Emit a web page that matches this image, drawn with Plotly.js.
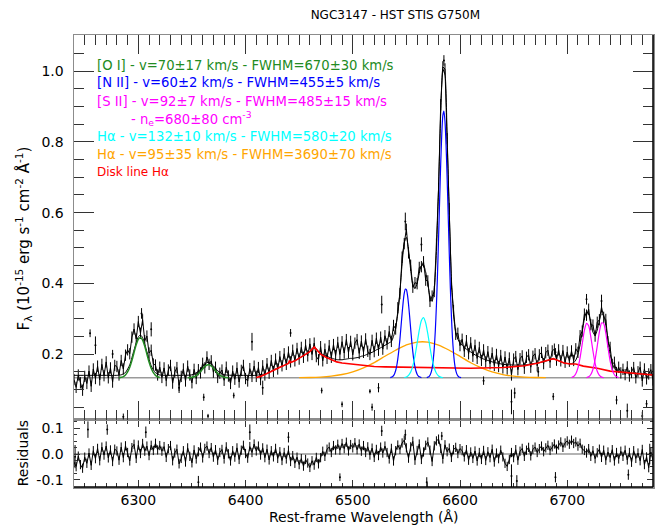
<!DOCTYPE html>
<html>
<head>
<meta charset="utf-8">
<script src="https://cdn.plot.ly/plotly-3.0.1.min.js"></script>
<style>html,body{margin:0;padding:0;background:#fff;}#chart{width:663px;height:526px;}</style>
</head>
<body>
<div id="chart"></div>
<script>
// ---- Spectrum sampling (regular grid: start + step, like a FITS WCS) ----
const waveStart = 6240;
const waveStep = 2;

const flux = [
 0.128,0.106,0.141,0.119,0.098,0.137,0.117,0.152,0.109,0.158,0.131,0.166,0.127,0.171,0.139,0.178,0.133,0.161,0.121,0.168,
 0.165,0.141,0.182,0.158,0.197,0.212,0.201,0.248,0.271,0.243,0.292,0.259,0.297,0.238,0.251,0.203,0.211,0.172,0.169,0.141,0.163,
 0.134,0.161,0.125,0.155,0.168,0.118,0.149,0.162,0.112,0.137,0.158,0.124,0.166,0.141,0.119,0.157,0.131,
 0.156,0.147,0.174,0.161,0.192,0.171,0.181,0.149,0.163,0.134,0.146,
 0.155,0.126,0.163,0.138,0.117,0.152,0.129,0.161,0.121,0.154,0.168,0.131,0.124,0.159,0.137,0.166,
 0.137,0.162,0.128,0.167,0.141,0.173,0.146,0.182,0.151,0.186,
 0.158,0.193,0.167,0.201,0.171,0.206,0.178,0.211,0.181,0.216,
 0.186,0.219,0.191,0.226,0.195,0.229,0.199,0.231,0.193,0.184,
 0.221,0.181,0.214,0.188,0.224,0.191,0.227,0.196,0.233,0.199,
 0.235,0.203,0.241,0.204,0.236,0.198,0.231,0.241,0.202,0.237,
 0.205,0.243,0.208,0.199,0.239,0.207,0.245,0.211,0.248,0.214,
 0.252,
 0.229,0.264,0.236,0.281,0.271,0.331,0.371,0.474,0.512,0.553,
 0.486,0.451,0.389,0.402,0.399,0.445,0.447,0.461,0.409,0.407,
 0.349,0.364,0.377,0.511,0.668,0.905,1.012,1.006,0.809,0.611,
 0.399,0.323,0.256,0.259,0.224,
 0.242,0.208,0.238,0.201,0.232,0.194,0.225,0.188,0.219,0.182,
 0.212,0.178,0.207,0.173,0.203,0.168,0.199,0.165,0.196,0.161,
 0.192,0.158,0.189,0.141,0.186,0.193,0.156,0.187,0.195,0.160,
 0.191,0.198,0.163,0.194,0.201,0.167,0.198,0.205,0.173,0.204,
 0.211,0.177,0.209,0.214,0.183,0.212,0.181,0.210,0.177,0.206,
 0.180,0.209,0.182,0.215,0.205,0.252,0.265,0.313,0.310,0.327,
 0.283,0.282,0.251,0.290,0.297,0.333,0.304,0.298,0.235,0.219,
 0.171,0.177,0.148,0.163,0.147,
 0.157,0.142,0.164,0.138,0.148,0.162,0.133,0.150,0.163,0.124,0.158,0.130,0.144,0.156,0.127
];
const fluxErr = 0.016;

// Residuals on the same grid
const resid = [
 -0.031,-0.049,-0.008,-0.041,-0.055,-0.012,-0.036,0.004,-0.044,0.013,-0.018,0.022,-0.026,0.027,-0.004,0.031,-0.015,0.016,-0.029,0.019,
 0.012,-0.024,0.027,-0.014,0.032,0.006,-0.027,0.025,0.038,-0.017,0.035,0.002,0.041,0.011,0.031,-0.006,0.034,0.014,0.042,0.016,0.033,
 0.011,0.029,-0.013,0.021,0.033,-0.026,0.004,0.019,-0.038,-0.017,0.013,-0.031,0.024,-0.009,-0.034,0.016,-0.019,
 0.009,0.027,-0.015,0.022,0.031,0.002,0.025,-0.012,0.017,-0.024,0.006,
 0.018,-0.019,0.028,0.001,-0.027,0.013,-0.012,0.024,-0.021,0.015,0.034,0.002,-0.016,0.029,0.006,0.039,
 0.012,0.031,-0.004,0.024,-0.014,0.019,-0.023,0.013,-0.011,0.022,
 -0.017,0.009,-0.025,0.006,-0.019,0.015,-0.029,-0.006,-0.036,-0.012,
 -0.041,-0.018,-0.047,-0.021,-0.035,-0.052,-0.026,-0.043,-0.013,-0.038,
 -0.014,0.011,-0.009,0.019,0.027,0.006,0.033,0.016,0.038,0.015,
 0.041,0.021,0.046,0.012,0.037,0.024,0.044,0.017,0.039,0.011,
 0.033,0.006,0.028,-0.004,0.023,-0.013,0.018,-0.006,0.027,0.004,
 0.031,
 0.006,-0.019,0.022,-0.027,0.013,0.035,0.018,0.043,0.054,0.024,
 -0.016,0.028,0.049,-0.024,0.014,0.039,-0.021,0.008,0.034,0.047,
 0.015,-0.029,0.032,0.051,0.058,0.022,-0.019,0.036,0.009,0.023,
 -0.013,0.017,0.026,0.002,0.021,
 0.013,-0.011,0.017,-0.024,0.008,-0.017,0.012,-0.027,0.006,-0.021,
 0.014,-0.025,0.009,-0.014,0.019,-0.031,0.004,-0.018,0.015,-0.011,
 -0.036,-0.048,-0.021,0.006,-0.014,0.017,-0.024,0.011,0.022,-0.009,
 0.015,0.026,-0.007,0.018,0.027,0.006,0.021,0.031,0.009,0.024,
 0.034,0.014,0.028,0.039,0.019,0.035,0.047,0.026,0.043,0.051,
 0.038,0.054,0.041,0.047,0.031,0.042,0.019,0.014,0.004,0.021,
 -0.009,0.013,-0.018,0.005,0.019,-0.013,0.015,-0.024,0.008,-0.014,
 0.017,-0.027,0.006,-0.019,0.011,
 -0.009,0.015,-0.023,0.006,-0.032,0.013,-0.017,0.004,-0.026,0.018,-0.041,-0.011,-0.053,0.008,-0.024
];
const residErr = 0.018;

// Outlying pixels with large error bars (flux panel)
const spikeWave = [6255,6260,6276,6286,6303,6312,6338,6361,6365,6389,6406,6416,6442,6471,6490,6516,6518,6524,6527,6549,6564,6585,6622,6648,6651,6673,6687,6689,6718,6732,6746,6756,6770,6774];
const spikeFlux = [0.259,0.225,0.200,0.023,0.315,0.270,0.105,0.078,0.025,0.083,0.235,0.105,0.260,0.097,0.058,0.095,0.050,0.105,0.340,0.575,0.510,1.030,0.125,0.065,0.090,0.150,0.080,0.205,0.355,0.350,0.070,0.040,0.025,0.060];
const spikeErr  = [0.011,0.025,0.012,0.009,0.015,0.020,0.015,0.010,0.006,0.008,0.025,0.020,0.011,0.008,0.008,0.006,0.010,0.013,0.025,0.025,0.020,0.015,0.012,0.035,0.015,0.014,0.010,0.012,0.015,0.018,0.012,0.020,0.012,0.010];

// Outlying pixels (residual panel)
const rSpikeWave = [6241,6253,6271,6307,6356,6404,6440,6488,6527,6549,6569,6583,6648,6653,6689,6757,6777];
const rSpikeVal  = [-0.010,0.095,0.095,0.085,-0.110,0.085,0.065,-0.090,0.090,0.075,-0.110,0.070,-0.085,-0.105,-0.090,-0.080,0.000];
const rSpikeErr  = [0.045,0.032,0.020,0.022,0.025,0.030,0.020,0.015,0.020,0.020,0.020,0.016,0.045,0.023,0.020,0.020,0.040];

// Total fit model
const modelWaveLeft = [6240,6250,6260,6270,6280,6284,6288,6292,6296,6300,6302,6304,6308,6312,6316,6320,6330,6340,6350,6356,6360,6364,6366,6370,6374,6380,6390,6400,6410,6414,6418];
const modelFluxLeft = [0.140,0.140,0.140,0.140,0.140,0.1414,0.148,0.170,0.2115,0.249,0.254,0.2466,0.2068,0.167,0.147,0.141,0.140,0.140,0.1414,0.151,0.165,0.176,0.1767,0.167,0.1529,0.1418,0.140,0.140,0.140,0.142,0.144];
const modelStart = 6422;
const modelFluxRight = [
 0.148,0.152,0.155,0.158,0.160,0.163,0.166,0.168,0.171,0.174,
 0.176,0.179,0.181,0.185,0.188,0.192,0.195,0.199,0.203,0.208,
 0.214,0.221,0.215,0.207,0.202,0.199,0.196,0.194,0.191,0.189,
 0.187,0.185,0.184,0.184,0.184,0.185,0.186,0.187,0.188,0.188,
 0.189,0.190,0.191,0.194,0.195,0.1975,0.200,0.203,0.205,0.208,
 0.212,0.214,0.218,0.221,0.225,0.228,0.232,0.2355,0.250,0.275,
 0.315,0.378,0.455,0.515,0.530,0.495,0.438,0.395,0.385,0.400,
 0.428,0.450,0.452,0.432,0.398,0.362,0.350,0.382,0.490,0.670,
 0.880,1.005,0.990,0.815,0.600,0.412,0.310,0.262,0.242,0.232,
 0.225,0.219,0.214,0.210,0.206,0.202,0.198,0.195,0.192,0.189,
 0.186,0.184,0.182,0.180,0.178,0.1765,0.175,0.174,0.1725,0.171,
 0.1705,0.170,0.170,0.1695,0.169,0.169,0.169,0.169,0.169,0.169,
 0.170,0.171,0.172,0.173,0.174,0.174,0.1755,0.177,0.1785,0.180,
 0.182,0.184,0.186,0.186,0.1835,0.181,0.1785,0.176,0.1745,0.1735,
 0.1725,0.173,0.176,0.183,0.199,0.226,0.263,0.299,0.319,0.3136,
 0.288,0.262,0.253,0.268,0.295,0.314,0.3095,0.281,0.239,0.200,
 0.174,0.159,0.153,0.1495,0.149,0.148,0.1475,0.147,0.1465,0.146,
 0.1455,0.145,0.1445,0.144,0.1435,0.143,0.1425,0.142,0.1415,0.141
];

// Continuum level (grey line)
const contWave = [6240,6780];
const contFlux = [0.133,0.133];

// Component curves
const oi1Wave = [6282,6284,6286,6288,6290,6292,6294,6296,6298,6300,6302,6304,6306,6308,6310,6312,6314,6316,6318,6320];
const oi1Flux = [0.1335,0.1344,0.1366,0.1411,0.1495,0.163,0.182,0.2045,0.2263,0.242,0.247,0.2396,0.2223,0.1998,0.1778,0.1599,0.1474,0.1399,0.136,0.1341];
const oi2Wave = [6346,6348,6350,6352,6354,6356,6358,6360,6362,6364,6366,6368,6370,6372,6374,6376,6378,6380,6382,6384];
const oi2Flux = [0.1332,0.1336,0.1344,0.1362,0.1393,0.1441,0.1506,0.158,0.1648,0.1691,0.1697,0.1664,0.1602,0.1528,0.1459,0.1405,0.1369,0.1348,0.1338,0.1333];
const nii1Wave = [6535,6537,6538,6539,6540,6541,6542,6543,6544,6545,6546,6547,6548,6549,6550,6551,6552,6553,6554,6555,6556,6557,6558,6559,6560,6561,6562,6564];
const nii1Flux = [0.1337,0.1362,0.1393,0.1447,0.1536,0.1671,0.1864,0.2119,0.2432,0.2786,0.3145,0.347,0.3714,0.3839,0.3824,0.3674,0.3411,0.3075,0.2714,0.2366,0.2063,0.182,0.1639,0.1515,0.1434,0.1386,0.1358,0.1336];
const nii2Wave = [6569,6571,6572,6573,6574,6575,6576,6577,6578,6579,6580,6581,6582,6583,6584,6585,6586,6587,6588,6589,6590,6591,6592,6593,6594,6595,6596,6597,6598,6599,6601];
const nii2Flux = [0.1336,0.1364,0.1402,0.1476,0.1607,0.1826,0.217,0.2675,0.3366,0.4239,0.5262,0.6341,0.7375,0.8217,0.8745,0.8871,0.8578,0.7911,0.6977,0.5909,0.4838,0.3869,0.3067,0.2453,0.2016,0.1726,0.1545,0.1441,0.1384,0.1355,0.1334];
const haNWave = [6548,6550,6552,6554,6556,6558,6560,6562,6564,6566,6568,6570,6572,6574,6576,6578,6580,6582,6584];
const haNFlux = [0.1338,0.1355,0.1398,0.1492,0.1669,0.1945,0.2304,0.2675,0.295,0.303,0.288,0.257,0.219,0.185,0.1606,0.1457,0.1381,0.1348,0.1335];
const haBWave = [6450,6460,6470,6480,6490,6500,6510,6520,6530,6540,6550,6560,6565,6570,6580,6590,6600,6610,6620,6630,6640,6650,6660,6670,6680];
const haBFlux = [0.1334,0.1339,0.1352,0.1378,0.1424,0.150,0.1613,0.176,0.194,0.211,0.226,0.234,0.235,0.234,0.2256,0.211,0.1935,0.1755,0.161,0.1496,0.1423,0.1375,0.1352,0.1339,0.1334];
const sii1Wave = [6704,6706,6708,6710,6712,6714,6716,6718,6720,6722,6724,6726,6728,6730,6732,6734];
const sii1Flux = [0.134,0.1369,0.1444,0.161,0.19,0.229,0.267,0.287,0.28,0.249,0.2088,0.174,0.1513,0.1398,0.135,0.1334];
const sii2Wave = [6718,6720,6722,6724,6726,6728,6730,6732,6734,6736,6738,6740,6742,6744,6746,6748];
const sii2Flux = [0.1334,0.136,0.1425,0.1573,0.1843,0.2226,0.2626,0.288,0.2865,0.259,0.2185,0.181,0.1553,0.1416,0.1357,0.1336];
const diskWave = [6410,6414,6420,6426,6432,6438,6440,6441,6442,6446,6450,6455,6460,6464,6467,6470,6475,6480,6485,6490,6495,6500,6510,6520,6530,6550,6580,6610,6640,6660,6672,6680,6687,6692,6697,6703,6708,6715,6728,6740,6759,6780];
const diskFlux = [0.134,0.137,0.145,0.155,0.163,0.171,0.174,0.182,0.176,0.181,0.188,0.197,0.207,0.220,0.210,0.200,0.191,0.184,0.178,0.175,0.173,0.171,0.167,0.165,0.164,0.163,0.161,0.160,0.162,0.167,0.174,0.180,0.187,0.181,0.175,0.172,0.172,0.166,0.160,0.152,0.146,0.141];

// Axis ticks
const xTickVals = [6300,6400,6500,6600,6700];
const xTickText = ['6300','6400','6500','6600','6700'];
const yTickVals = [0.2,0.4,0.6,0.8,1.0];
const yTickText = ['0.2','0.4','0.6','0.8','1.0'];
const rTickVals = [-0.1,0.0,0.1];
const rTickText = ['-0.1','0.0','0.1'];

// Legend text lines
const legendLines = [
  {text:'[O I] - v=70±17 km/s - FWHM=670±30 km/s', color:'#228b22'},
  {text:'[N II] - v=60±2 km/s - FWHM=455±5 km/s', color:'#0000ff'},
  {text:'[S II] - v=92±7 km/s - FWHM=485±15 km/s', color:'#ff00ff'},
  {text:'- n<sub>e</sub>=680±80 cm<sup>-3</sup>', color:'#ff00ff', indent:true},
  {text:'Hα - v=132±10 km/s - FWHM=580±20 km/s', color:'#00ffff'},
  {text:'Hα - v=95±35 km/s - FWHM=3690±70 km/s', color:'#ffa500'},
  {text:'Disk line Hα', color:'#ff0000', small:true}
];

// ---- build ----
const wave = [];
for (let i = 0; i < flux.length; i++) wave.push(waveStart + i * waveStep);
const modelWave = modelWaveLeft.slice();
const modelFlux = modelFluxLeft.slice();
for (let i = 0; i < modelFluxRight.length; i++) { modelWave.push(modelStart + i * waveStep); modelFlux.push(modelFluxRight[i]); }

const topAx = {xaxis:'x2', yaxis:'y'};
const botAx = {xaxis:'x', yaxis:'y2'};
function curve(x, y, color, w, shape) {
  return Object.assign({type:'scatter', mode:'lines', x:x, y:y, line:{color:color, width:w, shape:shape||'spline', smoothing:0.6}}, topAx);
}

const traces = [
  Object.assign({type:'scatter', mode:'lines', x:contWave, y:contFlux, line:{color:'#9a9a9a', width:1.5}}, topAx),
  Object.assign({type:'scatter', mode:'lines', x:wave, y:flux, line:{color:'#000', width:1},
     error_y:{type:'constant', value:fluxErr, thickness:1, width:0, color:'#000'}}, topAx),
  Object.assign({type:'scatter', mode:'markers', x:spikeWave, y:spikeFlux, marker:{color:'#000', size:2},
     error_y:{type:'data', array:spikeErr, thickness:1, width:0, color:'#000'}}, topAx),
  curve(modelWave, modelFlux, '#000', 1.0),
  curve(haBWave, haBFlux, '#ffa500', 1.3),
  curve(diskWave, diskFlux, '#ff0000', 1.6, 'linear'),
  curve(oi1Wave, oi1Flux, '#228b22', 1.5),
  curve(oi2Wave, oi2Flux, '#228b22', 1.5),
  curve(nii1Wave, nii1Flux, '#0000ff', 1.2),
  curve(nii2Wave, nii2Flux, '#0000ff', 1.2),
  curve(haNWave, haNFlux, '#00ffff', 1.2),
  curve(sii1Wave, sii1Flux, '#ff00ff', 1.2),
  curve(sii2Wave, sii2Flux, '#ff00ff', 1.2),
  Object.assign({type:'scatter', mode:'lines', x:contWave, y:[0,0], line:{color:'#9a9a9a', width:1.5}}, botAx),
  Object.assign({type:'scatter', mode:'lines', x:wave, y:resid, line:{color:'#000', width:1},
     error_y:{type:'constant', value:residErr, thickness:1, width:0, color:'#000'}}, botAx),
  Object.assign({type:'scatter', mode:'markers', x:rSpikeWave, y:rSpikeVal, marker:{color:'#000', size:2},
     error_y:{type:'data', array:rSpikeErr, thickness:1, width:0, color:'#000'}}, botAx)
];

const FONT = 'DejaVu Sans, Arial, sans-serif';
const splitY = 0.1492;
const annotations = [];
const legendY = [0.933, 0.894, 0.853, 0.816, 0.7745, 0.736, 0.697];
legendLines.forEach((l, i) => {
  annotations.push({xref:'paper', yref:'paper', x: l.indent ? 0.095 : 0.0368, y: legendY[i], xanchor:'left', yanchor:'middle',
    text:l.text, showarrow:false, font:{family:FONT, size: l.small ? 12 : 13.2, color:l.color}});
});
annotations.push({xref:'paper', yref:'paper', x:-0.088, y:0.55, xanchor:'center', yanchor:'middle', textangle:-90, showarrow:false,
  text:'F<sub>λ</sub> (10<sup>-15</sup> erg s<sup>-1</sup> cm<sup>-2</sup> Å<sup>-1</sup>)', font:{family:FONT, size:15, color:'#000'}});
annotations.push({xref:'paper', yref:'paper', x:-0.088, y:splitY/2, xanchor:'center', yanchor:'middle', textangle:-90, showarrow:false,
  text:'Residuals', font:{family:FONT, size:14, color:'#000'}});
annotations.push({xref:'paper', yref:'paper', x:0.5, y:-0.066, xanchor:'center', yanchor:'middle', showarrow:false,
  text:'Rest-frame Wavelength (Å)', font:{family:FONT, size:14, color:'#000'}});

const axisLine = {showline:true, linecolor:'#8c8c8c', linewidth:1.5, mirror:'allticks', showgrid:false, zeroline:false, tickcolor:'#333', tickwidth:1};
const layout = {
  width:663, height:526,
  margin:{l:74, r:10, t:35, b:39, pad:0},
  paper_bgcolor:'#fff', plot_bgcolor:'#fff',
  font:{family:FONT, size:14, color:'#000'},
  showlegend:false, hovermode:false,
  title:{text:'NGC3147 - HST STIS G750M', font:{family:FONT, size:12, color:'#000'}, xref:'paper', x:0.555, xanchor:'center', yref:'container', y:0.9715, yanchor:'middle'},
  xaxis: Object.assign({anchor:'y2', domain:[0,1], range:[6240,6780], tickmode:'array', tickvals:xTickVals, ticktext:xTickText,
    ticks:'inside', ticklen:7, ticklabelstandoff:0, tickfont:{size:14},
    minor:{ticks:'inside', dtick:10, tick0:6240, ticklen:4, tickcolor:'#333', showgrid:false}}, axisLine),
  xaxis2: Object.assign({anchor:'y', domain:[0,1], range:[6240,6780], matches:'x', tickmode:'array', tickvals:xTickVals, ticktext:xTickText,
    showticklabels:false, ticks:'inside', ticklen:19,
    minor:{ticks:'inside', dtick:10, tick0:6240, ticklen:10, tickcolor:'#333', showgrid:false}}, axisLine),
  yaxis: Object.assign({anchor:'x2', domain:[splitY,1], range:[0.015,1.102], tickmode:'array', tickvals:yTickVals, ticktext:yTickText,
    ticks:'inside', ticklen:20, ticklabelstandoff:6, tickfont:{size:14},
    minor:{ticks:'inside', dtick:0.05, tick0:0, ticklen:10, tickcolor:'#333', showgrid:false}}, axisLine),
  yaxis2: Object.assign({anchor:'x', domain:[0,splitY], range:[-0.128,0.134], tickmode:'array', tickvals:rTickVals, ticktext:rTickText,
    ticks:'inside', ticklen:6, ticklabelstandoff:6, tickfont:{size:14},
    minor:{ticks:'inside', dtick:0.025, tick0:0, ticklen:3, tickcolor:'#333', showgrid:false}}, axisLine),
  annotations: annotations,
  shapes: [
    {type:'line', xref:'paper', yref:'paper', x0:1, x1:1, y0:0, y1:1, line:{color:'#000', width:1.5}},
    {type:'line', xref:'paper', yref:'paper', x0:0, x1:1, y0:0, y1:0, line:{color:'#000', width:1.5}}
  ]
};

Plotly.newPlot('chart', traces, layout, {staticPlot:true, displayModeBar:false});
</script>
</body>
</html>
